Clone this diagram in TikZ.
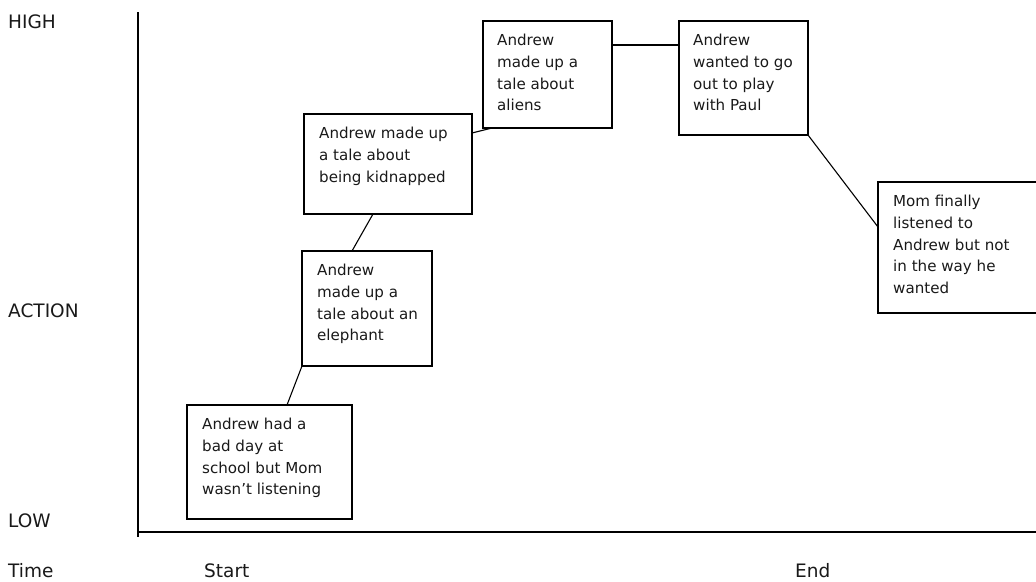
\documentclass[tikz,border=0pt]{standalone}
\usepackage{fontspec}
\setmainfont{DejaVu Sans}
\usetikzlibrary{calc}

\tikzset{
  event/.style={draw=black, line width=1.3pt, rectangle, inner sep=0pt, outer sep=0pt,
                anchor=north west},
  eventtext/.style={anchor=north west, align=left, inner sep=0pt, text=black!90,
                font=\fontsize{15.1}{21.7}\selectfont},
  axislabel/.style={anchor=base west, inner sep=0pt, text=black!90,
                font=\fontsize{18.5}{22}\selectfont},
  axis/.style={draw=black, line width=1.3pt},
  link/.style={draw=black, line width=1.1pt},
}

\begin{document}
\begin{tikzpicture}[x=1pt, y=-1pt]
  \useasboundingbox (0,0) rectangle (1036,581);
  \clip (0,0) rectangle (1036,581);

  % axes
  \coordinate (ytop) at (138,12);
  \coordinate (ybot) at (138,537);
  \coordinate (orig) at (138,532);
  \coordinate (xend) at (1040,532);
  \draw[axis] (ytop) -- (ybot);
  \draw[axis] (orig) -- (xend);

  % axis labels
  \node[axislabel] (high)   at (8,28)  {HIGH};
  \node[axislabel] (action) at (8,317) {ACTION};
  \node[axislabel] (low)    at (8,527) {LOW};
  \node[axislabel] (time)   at (8,577) {Time};
  \node[axislabel] (start)  at (204,577) {Start};
  \node[axislabel] (finish) at (795,577) {End};

  % event boxes
  \node[event, minimum width=165pt, minimum height=114pt] (b1) at (187,405) {};
  \node[event, minimum width=130pt, minimum height=115pt] (b2) at (302,251) {};
  \node[event, minimum width=168pt, minimum height=100pt] (b3) at (304,114) {};
  \node[event, minimum width=129pt, minimum height=107pt] (b4) at (483,21) {};
  \node[event, minimum width=129pt, minimum height=114pt] (b5) at (679,21) {};
  \node[event, minimum width=170pt, minimum height=131pt] (b6) at (878,182) {};

  % event texts, first line baseline about 24.5pt below the box top
  \node[eventtext] (t1) at ([shift={(15,13)}]b1.north west)
    {Andrew had a\\bad day at\\school but Mom\\wasn’t listening};
  \node[eventtext] (t2) at ([shift={(15,13)}]b2.north west)
    {Andrew\\made up a\\tale about an\\elephant};
  \node[eventtext] (t3) at ([shift={(15,13)}]b3.north west)
    {Andrew made up\\a tale about\\being kidnapped};
  \node[eventtext] (t4) at ([shift={(14,13)}]b4.north west)
    {Andrew\\made up a\\tale about\\aliens};
  \node[eventtext] (t5) at ([shift={(14,13)}]b5.north west)
    {Andrew\\wanted to go\\out to play\\with Paul};
  \node[eventtext] (t6) at ([shift={(15,13)}]b6.north west)
    {Mom finally\\listened to\\Andrew but not\\in the way he\\wanted};

  % connectors
  \draw[link] ([xshift=100pt]b1.north west) -- (b2.south west);
  \draw[link] ([xshift=50pt]b2.north west) -- ([xshift=69pt]b3.south west);
  \draw[link] ([yshift=-19pt]b3.north east) -- ([xshift=9pt]b4.south west);
  \draw[link] ([yshift=-24pt]b4.north east) -- ([yshift=-24pt]b5.north west);
  \draw[link] (b5.south east) -- ([yshift=-45pt]b6.north west);
\end{tikzpicture}
\end{document}
